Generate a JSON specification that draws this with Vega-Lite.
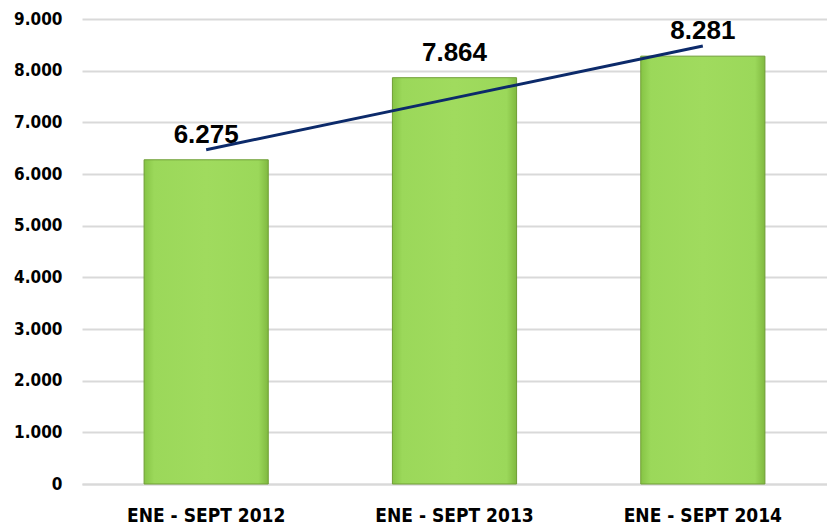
{
  "$schema": "https://vega.github.io/schema/vega-lite/v6.json",
  "width": 745,
  "height": 465,
  "autosize": {"type": "none"},
  "padding": {"left": 82, "top": 19, "right": 0, "bottom": 48},
  "background": "white",
  "config": {
    "view": {"stroke": null},
    "locale": {"number": {"decimal": ",", "thousands": ".", "grouping": [3], "currency": ["$", ""]}},
    "axisY": {
      "title": null, "domain": false, "ticks": false,
      "gridColor": "#d9d9d9", "gridWidth": 2, "labelOverlap": false,
      "labelFont": "DejaVu Sans Condensed", "labelFontWeight": "bold",
      "labelFontSize": 17, "labelColor": "#000000", "labelPadding": 20
    }
  },
  "data": {
    "values": [
      {"periodo": "ENE - SEPT 2012", "valor": 6275, "tendencia": 6470},
      {"periodo": "ENE - SEPT 2013", "valor": 7864, "tendencia": 7473},
      {"periodo": "ENE - SEPT 2014", "valor": 8281, "tendencia": 8476}
    ]
  },
  "encoding": {
    "x": {
      "field": "periodo", "type": "nominal", "sort": null,
      "scale": {"paddingInner": 0.5, "paddingOuter": 0.25},
      "axis": {
        "title": null, "labelAngle": 0, "ticks": false,
        "domainColor": "#d9d9d9", "domainWidth": 2,
        "labelFont": "DejaVu Sans Condensed", "labelFontWeight": "bold",
        "labelFontSize": 19, "labelColor": "#000000", "labelPadding": 22
      }
    }
  },
  "layer": [
    {
      "mark": {
        "type": "bar",
        "stroke": "#6f9e35", "strokeWidth": 1,
        "fill": {
          "gradient": "linear", "x1": 0, "y1": 0, "x2": 1, "y2": 0,
          "stops": [
            {"offset": 0, "color": "#86c445"},
            {"offset": 0.08, "color": "#9bd85a"},
            {"offset": 0.5, "color": "#a0db5e"},
            {"offset": 0.92, "color": "#9bd85a"},
            {"offset": 1, "color": "#80b940"}
          ]
        }
      },
      "encoding": {
        "y": {
          "field": "valor", "type": "quantitative",
          "scale": {"domain": [0, 9000], "nice": false},
          "axis": {"values": [0,1000,2000,3000,4000,5000,6000,7000,8000,9000], "format": ",d"}
        }
      }
    },
    {
      "mark": {"type": "line", "color": "#0c2a6a", "strokeWidth": 3},
      "encoding": {
        "y": {
          "field": "tendencia", "type": "quantitative",
          "axis": {"values": [0,1000,2000,3000,4000,5000,6000,7000,8000,9000], "format": ",d"}
        }
      }
    },
    {
      "mark": {"type": "text", "baseline": "alphabetic", "dy": -17, "fontSize": 26, "fontWeight": "bold", "font": "Liberation Sans", "color": "#000000"},
      "encoding": {
        "y": {
          "field": "valor", "type": "quantitative",
          "axis": {"values": [0,1000,2000,3000,4000,5000,6000,7000,8000,9000], "format": ",d"}
        },
        "text": {"field": "valor", "type": "quantitative", "format": ","}
      }
    }
  ]
}
